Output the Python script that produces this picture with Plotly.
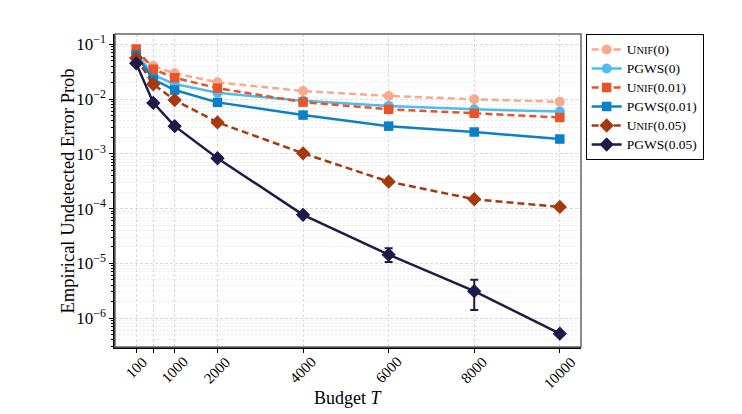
import plotly.graph_objects as go

budget = [100, 500, 1000, 2000, 4000, 6000, 8000, 10000]

unif_0 = [0.070, 0.040, 0.0295, 0.0202, 0.0140, 0.0114, 0.0099, 0.0089]
pgws_0 = [0.068, 0.0275, 0.0188, 0.0130, 0.0093, 0.0075, 0.0065, 0.0059]
unif_001 = [0.082, 0.035, 0.0245, 0.0158, 0.0088, 0.0065, 0.0055, 0.0046]
pgws_001 = [0.064, 0.023, 0.0146, 0.0087, 0.0051, 0.0032, 0.0025, 0.00186]
unif_005 = [0.056, 0.0186, 0.0096, 0.00375, 0.00102, 0.00031, 0.000148, 0.000107]
pgws_005 = [0.045, 0.0085, 0.0032, 0.00083, 7.7e-5, 1.44e-5, 3.1e-6, 5.2e-7]
pgws_005_err_plus = [0, 0, 0, 0, 0, 4.5e-6, 1.9e-6, 0]
pgws_005_err_minus = [0, 0, 0, 0, 0, 3.8e-6, 1.7e-6, 0]

x_tick_vals = [100, 500, 1000, 2000, 4000, 6000, 8000, 10000]
x_tick_text = ["100", "", "1000", "2000", "4000", "6000", "8000", "10000"]
y_tick_vals = [1e-1, 1e-2, 1e-3, 1e-4, 1e-5, 1e-6]
y_tick_text = ["10<sup>\u22121</sup>", "10<sup>\u22122</sup>", "10<sup>\u22123</sup>",
               "10<sup>\u22124</sup>", "10<sup>\u22125</sup>", "10<sup>\u22126</sup>"]


def big(t):
    return "<span style='font-size:13.5px'>" + t + "</span>"


def unif(p):
    return big("U") + "<span style='font-size:10.5px'>NIF</span>" + big("(" + p + ")")


series = [
    (unif("0"), unif_0, "#F9A98C", "circle", "dash", None),
    (big("PGWS(0)"), pgws_0, "#4CBDEE", "circle", "solid", None),
    (unif("0.01"), unif_001, "#E8532A", "square", "dash", None),
    (big("PGWS(0.01)"), pgws_001, "#0C80C6", "square", "solid", None),
    (unif("0.05"), unif_005, "#A53A0F", "diamond", "dash", None),
    (big("PGWS(0.05)"), pgws_005, "#1E1B4B", "diamond", "solid", (pgws_005_err_plus, pgws_005_err_minus)),
]

marker_size = {"circle": 10, "square": 9.5, "diamond": 11}

fig = go.Figure()
for name, vals, color, sym, dash, err in series:
    kw = {}
    if err is not None:
        kw["error_y"] = dict(type="data", array=err[0], arrayminus=err[1], visible=True,
                             color=color, thickness=2, width=4)
    fig.add_trace(go.Scatter(
        x=budget, y=vals, name=name, mode="lines+markers",
        line=dict(color=color, width=2.5, dash="7px,4px" if dash == "dash" else "solid"),
        marker=dict(symbol=sym, size=marker_size[sym], color=color),
        **kw))

minor_vals = []
for e in range(-7, 0):
    for m in range(2, 10):
        minor_vals.append(m * 10 ** e)

fig.add_shape(type="rect", xref="paper", yref="paper", x0=0, x1=1, y0=0, y1=1,
              line=dict(color="#666666", width=1.5), layer="above")

# rotated x tick labels, centred under their ticks
for v, t in zip(x_tick_vals, x_tick_text):
    if t:
        fig.add_annotation(text=t, x=v, xref="x", yref="paper", y=-0.013,
                           xanchor="center", yanchor="top", textangle=-45,
                           showarrow=False, font=dict(size=15, family="Liberation Serif"))

fig.add_annotation(text="Budget <i>T</i>", xref="paper", yref="paper",
                   x=0.5, y=-0.163, xanchor="center", yanchor="middle",
                   showarrow=False, font=dict(size=18, family="Liberation Serif"))
fig.add_annotation(text="Empirical Undetected Error Prob", xref="paper", yref="paper",
                   x=-0.101, y=0.5, xanchor="center", yanchor="middle", textangle=-90,
                   showarrow=False, font=dict(size=18.5, family="Liberation Serif"))

fig.update_layout(
    width=742, height=414,
    margin=dict(l=115, r=161, t=34, b=67),
    paper_bgcolor="white", plot_bgcolor="white",
    font=dict(family="Liberation Serif", size=16, color="black"),
    showlegend=True,
    legend=dict(x=1.01, y=1.0, xanchor="left", yanchor="top",
                bordercolor="black", borderwidth=1, bgcolor="white",
                font=dict(size=12, family="Liberation Serif"),
                tracegroupgap=0, itemwidth=30),
    xaxis=dict(
        range=[-395, 10495], automargin=False,
        tickmode="array", tickvals=x_tick_vals, showticklabels=False,
        ticks="outside", ticklen=4, tickcolor="black",
        showline=True, linecolor="black", linewidth=1.5,
        showgrid=True, gridcolor="#d9d9d9", griddash="3px,2px", gridwidth=1,
        zeroline=False,
    ),
    yaxis=dict(
        type="log", range=[-6.528, -0.812], automargin=False,
        tickmode="array", tickvals=y_tick_vals, ticktext=y_tick_text,
        ticks="outside", ticklen=4, tickcolor="black",
        tickfont=dict(size=17),
        showline=True, linecolor="black", linewidth=1.5,
        showgrid=True, gridcolor="#d9d9d9", griddash="3px,2px", gridwidth=1,
        zeroline=False,
        minor=dict(tickmode="array", tickvals=minor_vals, ticks="outside", ticklen=2,
                   tickcolor="black", showgrid=True, gridcolor="#ececec", griddash="2px,2px"),
    ),
)

fig.write_html("out.html")
